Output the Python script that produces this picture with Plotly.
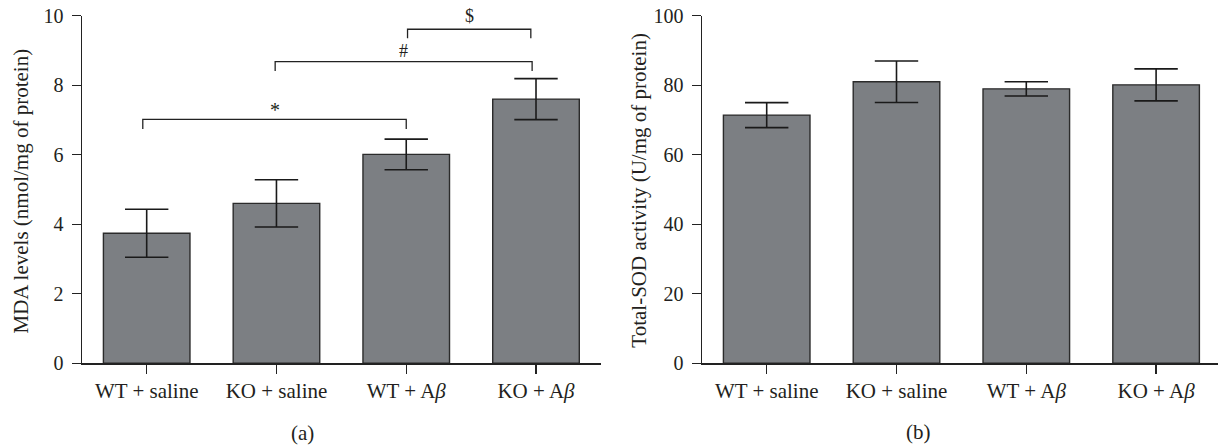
import plotly.graph_objects as go

# ---------------- data ----------------
categories = ["WT + saline", "KO + saline", "WT + A<i>β</i>", "KO + A<i>β</i>"]

mda_values = [3.74, 4.60, 6.01, 7.60]
mda_errors = [0.69, 0.68, 0.44, 0.59]

sod_values = [71.4, 81.0, 78.95, 80.1]
sod_errors = [3.6, 5.95, 2.05, 4.6]

# significance comparisons on panel (a)
sig_from = [0, 1, 2]
sig_to = [2, 3, 3]
sig_level = [7.02, 8.68, 9.61]
sig_leg_bottom = [6.74, 8.41, 9.35]
sig_labels = ["*", "#", "$"]
sig_label_y = [7.30, 8.99, 10.0]

mda_ticks = [0, 2, 4, 6, 8, 10]
sod_ticks = [0, 20, 40, 60, 80, 100]

# ---------------- styling ----------------
W, H = 1218, 445
FONT = "Liberation Serif"
TXT = "#231f20"
BAR = "#7c7f83"
EDGE = "#2b2b2b"
LINE = "#222222"


def px(v):
    return v / W


def py(v):
    return 1 - v / H


xs = list(range(len(categories)))

fig = go.Figure()

fig.add_trace(go.Bar(
    x=xs, y=mda_values, width=0.667,
    marker=dict(color=BAR, line=dict(color=EDGE, width=1.4)),
    error_y=dict(type="data", array=mda_errors, visible=True,
                 color="#1a1a1a", thickness=1.6, width=21.7),
    xaxis="x", yaxis="y", showlegend=False, hoverinfo="skip",
))
fig.add_trace(go.Bar(
    x=xs, y=sod_values, width=0.667,
    marker=dict(color=BAR, line=dict(color=EDGE, width=1.4)),
    error_y=dict(type="data", array=sod_errors, visible=True,
                 color="#1a1a1a", thickness=1.6, width=21.7),
    xaxis="x2", yaxis="y2", showlegend=False, hoverinfo="skip",
))

# significance brackets
x_shift = [-0.03, -0.01, 0.01]
x_shift_r = [0.0, -0.03, -0.04]
label_size = [20, 18, 18]
for i in range(len(sig_labels)):
    x0 = sig_from[i] + x_shift[i]
    x1 = sig_to[i] + x_shift_r[i]
    fig.add_shape(type="path",
                  path=f"M {x0} {sig_leg_bottom[i]} L {x0} {sig_level[i]} L {x1} {sig_level[i]} L {x1} {sig_leg_bottom[i]}",
                  xref="x", yref="y", line=dict(color=LINE, width=1.3))
    fig.add_annotation(x=(x0 + x1) / 2, y=sig_label_y[i], xref="x", yref="y",
                       text=sig_labels[i], showarrow=False,
                       font=dict(family=FONT, size=label_size[i], color=TXT),
                       xanchor="center", yanchor="middle")

axis_common = dict(
    showline=True, linecolor=LINE, linewidth=1.3,
    ticks="outside", ticklen=9, tickwidth=1.3, tickcolor=LINE,
    showgrid=False, zeroline=False,
    automargin=False, fixedrange=True, ticklabeloverflow="allow",
)
xfont = dict(family=FONT, size=21, color=TXT)
yfont = dict(family=FONT, size=20, color=TXT)

ydom = [py(363.3), py(15.7)]

fig.update_layout(
    width=W, height=H,
    margin=dict(l=0, r=0, t=0, b=0),
    paper_bgcolor="white", plot_bgcolor="white",
    bargap=0, hovermode=False,
    xaxis=dict(domain=[px(81.8), px(600.9)], range=[-0.5, 3.5],
               tickvals=xs, ticktext=categories, anchor="y", ticklabelstandoff=-1,
               tickfont=xfont, **axis_common),
    yaxis=dict(domain=ydom, range=[0, 10],
               tickvals=mda_ticks, anchor="x", ticklabelstandoff=4, tickfont=yfont, **axis_common),
    xaxis2=dict(domain=[px(701.8), 1.0], range=[-0.5, -0.5 + (1218 - 701.8) / 129.8],
                tickvals=xs, ticktext=categories, anchor="y2", ticklabelstandoff=-1,
                tickfont=xfont, **axis_common),
    yaxis2=dict(domain=ydom, range=[0, 100],
                tickvals=sod_ticks, anchor="x2", ticklabelstandoff=4, tickfont=yfont, **axis_common),
)

# axis titles and panel labels
fig.add_annotation(x=px(21), y=py(191.5), xref="paper", yref="paper",
                   text="MDA levels (nmol/mg of protein)", textangle=-90, showarrow=False,
                   xanchor="center", yanchor="middle",
                   font=dict(family=FONT, size=21, color=TXT))
fig.add_annotation(x=px(638.7), y=py(190), xref="paper", yref="paper",
                   text="Total-SOD activity (U/mg of protein)", textangle=-90, showarrow=False,
                   xanchor="center", yanchor="middle",
                   font=dict(family=FONT, size=21, color=TXT))
fig.add_annotation(x=px(302), y=py(433), xref="paper", yref="paper",
                   text="(a)", showarrow=False, xanchor="center", yanchor="middle",
                   font=dict(family=FONT, size=21, color=TXT))
fig.add_annotation(x=px(918), y=py(432), xref="paper", yref="paper",
                   text="(b)", showarrow=False, xanchor="center", yanchor="middle",
                   font=dict(family=FONT, size=21, color=TXT))

fig.write_html("out.html",
               config={"displayModeBar": False, "staticPlot": True},
               post_script="document.body.style.margin='0';document.body.style.overflow='hidden';")
